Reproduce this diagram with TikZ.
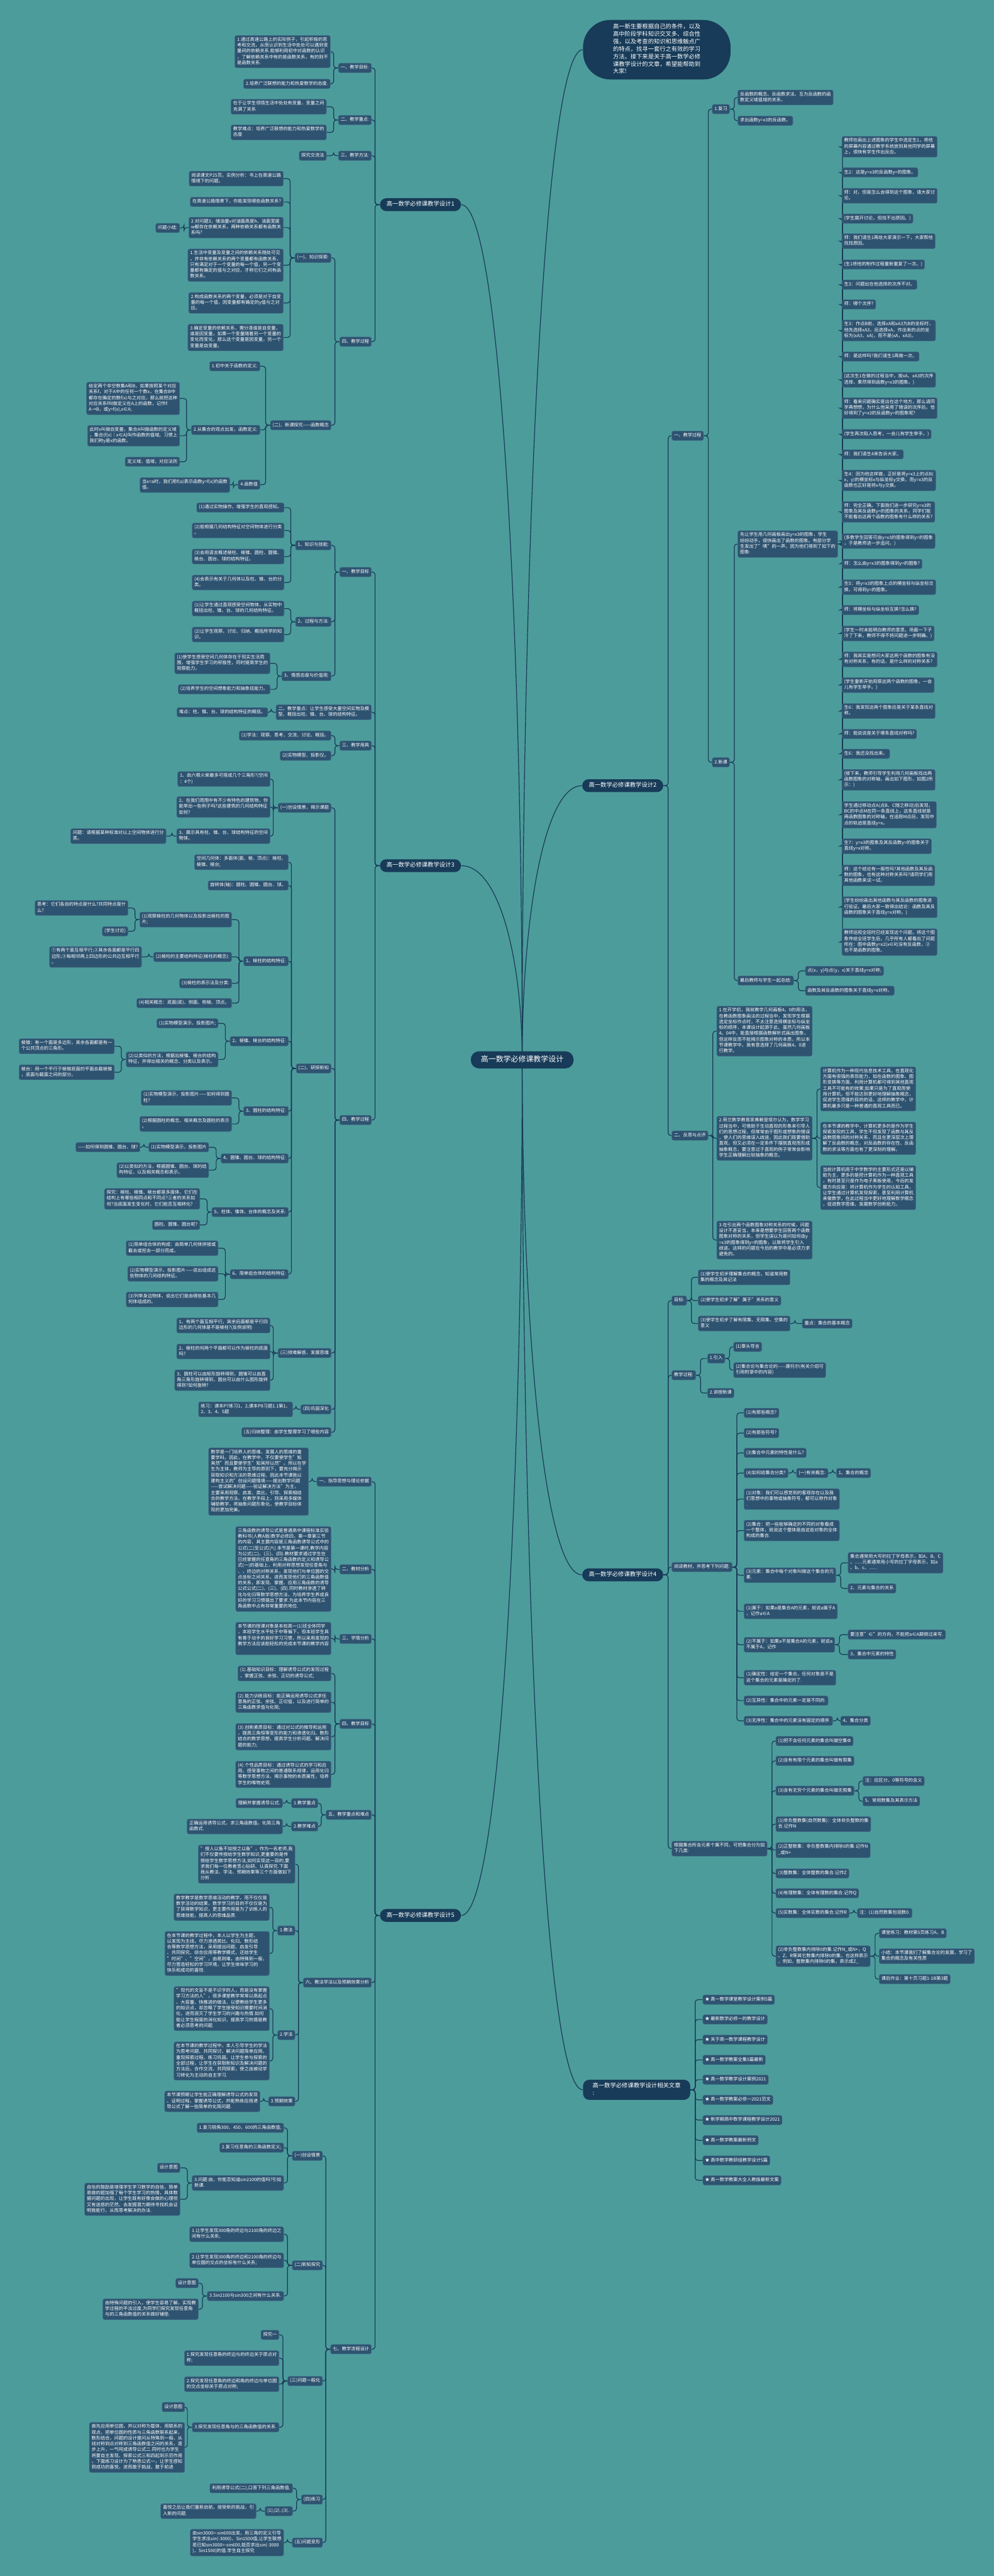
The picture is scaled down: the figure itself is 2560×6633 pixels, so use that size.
\documentclass[tikz,border=0pt]{standalone}
\usepackage{fontspec}
\setmainfont{Noto Sans CJK SC}
\usetikzlibrary{calc}
\definecolor{bgc}{HTML}{4C9C9B}
\definecolor{nodec}{HTML}{2E5370}
\definecolor{nodeedge}{HTML}{416A88}
\definecolor{mainc}{HTML}{173B58}
\definecolor{linec}{HTML}{183A56}
\pgfdeclarelayer{back}\pgfdeclarelayer{bg}\pgfsetlayers{back,bg,main}
\newcommand\fnodeX{\fontsize{3.33pt}{4.27pt}\selectfont}
\newcommand\fmainX{\fontsize{4.3pt}{5.5pt}\selectfont}
\newcommand\frootX{\fontsize{5.5pt}{7pt}\selectfont}
\newcommand\fintroX{\fontsize{4.27pt}{5.5pt}\selectfont}
\tikzset{
  nb/.style={fill=nodec, draw=nodeedge, line width=0.25pt, rounded corners=1.3pt, text=white, font=\fnodeX, align=left, inner xsep=1.6pt, inner ysep=1.3pt, execute at begin node=\strut, execute at end node=\strut},
  lb/.style={nb, anchor=east}, rb/.style={nb, anchor=west},
  mainn/.style={fill=mainc, draw=none, rounded corners=4.6pt, text=white, font=\fmainX, align=left, inner xsep=4.8pt, inner ysep=1.95pt, execute at begin node=\strut, execute at end node=\strut},
  rootn/.style={fill=mainc, draw=none, rounded corners=6pt, text=white, font=\frootX, inner xsep=7.4pt, inner ysep=2.75pt, execute at begin node=\strut, execute at end node=\strut},
  intro/.style={fill=mainc, draw=none, rounded corners=20pt, text=white, font=\fintroX, align=left, inner xsep=22pt, inner ysep=2.65pt, execute at begin node=\strut, execute at end node=\strut},
  conn/.style={draw=linec, line width=0.55pt, rounded corners=2pt}
}
\newcommand\kidsL[2]{\foreach \ch in {#2}{\draw[conn] (#1.west) -- ++(-12,0) |- (\ch.east);}}
\newcommand\kidsR[2]{\foreach \ch in {#2}{\draw[conn] (#1.east) -- ++(12,0) |- (\ch.west);}}
\newcommand\rtL[1]{\draw[conn] (root.center) .. controls ($(root.center)!0.5!(root.center|-#1.east)$) and ($(#1.east)+(100,0)$) .. (#1.east);}
\newcommand\rtR[1]{\draw[conn] (root.center) .. controls ($(root.center)!0.5!(root.center|-#1.west)$) and ($(#1.west)+(-100,0)$) .. (#1.west);}
\begin{document}
\begin{tikzpicture}[x=0.01cm,y=-0.01cm]
\begin{pgfonlayer}{back}
\fill[bgc] (0,0) rectangle (2560,6633);
\end{pgfonlayer}
\useasboundingbox (0,0) rectangle (2560,6633);

\node[rootn] (root) at (1345,2729) {高一数学必修课教学设计};

% ===== left 1 =====
\node[mainn,anchor=east] (A) at (1188,527) {高一数学必修课教学设计1};
\node[lb] (a1) at (957,175) {一、教学目标:};
\node[lb] (a11) at (851,133) {1.通过高速公路上的实际例子，引起积极的思\\考和交流，从而认识到生活中处处可以遇到变\\量间的依赖关系.能够利用初中对函数的认识\\，了解依赖关系中有的是函数关系，有的则不\\是函数关系.};
\node[lb] (a12) at (851,216) {2.培养广泛联想的能力和热爱数学的态度.};
\node[lb] (a2) at (957,309) {二、教学重点:};
\node[lb] (a21) at (841,275) {在于让学生领悟生活中处处有变量，变量之间\\充满了关系};
\node[lb] (a22) at (841,341) {教学难点：培养广泛联想的能力和热爱数学的\\态度};
\node[lb] (a3) at (957,401) {三、教学方法:};
\node[lb] (a31) at (841,401) {探究交流法};
\node[lb] (a4) at (957,880) {四、教学过程};
\node[lb] (a41) at (853,664) {(一)、知识探索:};
\node[lb] (a411) at (730,460) {阅读课文P25页。实例分析：书上在高速公路\\情境下的问题。};
\node[lb] (a412) at (730,520) {在高速公路情景下，你能发现哪些函数关系?};
\node[lb] (a413) at (730,586) {2.对问题3，储油量v对油面高度h、油面宽度\\w都存在依赖关系，两种依赖关系都有函数关\\系吗?};
\node[lb] (a4131) at (463,587) {问题小结:};
\node[lb] (a414) at (730,683) {1.生活中变量及变量之间的依赖关系随处可见\\，并非有依赖关系的两个变量都有函数关系，\\只有满足对于一个变量的每一个值，另一个变\\量都有确定的值与之对应，才称它们之间有函\\数关系。};
\node[lb] (a415) at (730,780) {2.构成函数关系的两个变量，必须是对于自变\\量的每一个值，因变量都有确定的y值与之对\\应。};
\node[lb] (a416) at (730,869) {3.确定变量的依赖关系，需分清谁是自变量，\\谁是因变量，如果一个变量随着另一个变量的\\变化而变化，那么这个变量是因变量，另一个\\变量是自变量。};
\node[lb] (a42) at (853,1095) {(二)、新课探究——函数概念};
\node[lb] (a421) at (670,943) {1.初中关于函数的定义:};
\node[lb] (a422) at (670,1107) {2.从集合的观点出发，函数定义:};
\node[lb] (a4221) at (463,1026) {给定两个非空数集A和B，如果按照某个对应\\关系f，对于A中的任何一个数x，在集合B中\\都存在确定的数f(x)与之对应，那么就把这种\\对应关系f叫做定义在A上的函数，记作f:\\A→B，或y=f(x),x∈A;};
\node[lb] (a4222) at (463,1122) {此时x叫做自变量，集合A叫做函数的定义域\\，集合\{f(x)｜x∈A\}叫作函数的值域。习惯上\\我们称y是x的函数。};
\node[lb] (a4223) at (463,1189) {定义域，值域，对应法则};
\node[lb] (a423) at (670,1248) {4.函数值};
\node[lb] (a4231) at (592,1249) {当x=a时，我们用f(a)表示函数y=f(x)的函数\\值。};

% ===== left 3 =====
\node[mainn,anchor=east] (C) at (1188,2229) {高一数学必修课教学设计3};
\node[lb] (c1) at (957,1473) {一、教学目标};
\node[lb] (c11) at (853,1404) {1、知识与技能:};
\node[lb] (c111) at (732,1307) {(1)通过实物操作，增强学生的直观感知。};
\node[lb] (c112) at (732,1366) {(2)能根据几何结构特征对空间物体进行分类\\。};
\node[lb] (c113) at (732,1433) {(3)会用语言概述棱柱、棱锥、圆柱、圆锥、\\棱台、圆台、球的结构特征。};
\node[lb] (c114) at (732,1500) {(4)会表示有关于几何体以及柱、锥、台的分\\类。};
\node[lb] (c12) at (853,1601) {2、过程与方法:};
\node[lb] (c121) at (732,1567) {(1)让学生通过直观感受空间物体，从实物中\\概括出柱、锥、台、球的几何结构特征。};
\node[lb] (c122) at (732,1634) {(2)让学生观察、讨论、归纳、概括所学的知\\识。};
\node[lb] (c13) at (853,1741) {3、情感态度与价值观:};
\node[lb] (c131) at (696,1708) {(1)使学生感受空间几何体存在于现实生活周\\围，增强学生学习的积极性，同时提高学生的\\观察能力。};
\node[lb] (c132) at (696,1775) {(2)培养学生的空间想象能力和抽象括能力。};
\node[lb] (c2) at (957,1834) {二、教学重点：让学生感受大量空间实物及模\\型、概括出柱、锥、台、球的结构特征。};
\node[lb] (c21) at (690,1834) {难点：柱、锥、台、球的结构特征的概括。};
\node[lb] (c3) at (957,1920) {三、教学用具};
\node[lb] (c31) at (853,1894) {(1)学法：观察、思考、交流、讨论、概括。};
\node[lb] (c32) at (853,1946) {(2)实物模型、投影仪。};
\node[lb] (c4) at (957,2884) {四、教学过程};
\node[lb] (c41) at (853,2080) {(一)创设情景，揭示课题};
\node[lb] (c411) at (696,2006) {1、由六根火柴最多可搭成几个三角形?(空间\\：4个)};
\node[lb] (c412) at (696,2078) {2、在我们周围中有不少有特色的建筑物，你\\能举出一些例子吗?这些建筑的几何结构特征\\如何?};
\node[lb] (c413) at (696,2153) {3、展示具有柱、锥、台、球结构特征的空间\\物体。};
\node[lb] (c4131) at (428,2153) {问题：请根据某种标准对以上空间物体进行分\\类。};
\node[lb] (c42) at (853,2751) {(二)、研探新知};
\node[lb] (c421) at (743,2220) {空间几何体：多面体(面、棱、顶点)：棱柱、\\棱锥、棱台;};
\node[lb] (c422) at (743,2280) {旋转体(轴)：圆柱、圆锥、圆台、球。};
\node[lb] (c423) at (743,2475) {1、棱柱的结构特征:};
\node[lb] (c4231) at (597,2368) {(1)观察棱柱的几何物体以及投影出棱柱的图\\片;};
\node[lb] (c42311) at (330,2338) {思考：它们各自的特点是什么?共同特点是什\\么?};
\node[lb] (c42312) at (330,2398) {(学生讨论)};
\node[lb] (c4232) at (597,2464) {(2)棱柱的主要结构特征(棱柱的概念):};
\node[lb] (c42321) at (365,2464) {①有两个面互相平行;②其余各面都是平行四\\边形;③每相邻两上四边形的公共边互相平行\\。};
\node[lb] (c4233) at (597,2532) {(3)棱柱的表示法及分类:};
\node[lb] (c4234) at (597,2583) {(4)相关概念：底面(底)、侧面、侧棱、顶点。};
\node[lb] (c424) at (743,2681) {2、棱锥、棱台的结构特征:};
\node[lb] (c4241) at (562,2635) {(1)实物模型演示，投影图片;};
\node[lb] (c4242) at (562,2728) {(2)以类似的方法，根据出棱锥、棱台的结构\\特征，并得出相关的概念、分类以及表示。};
\node[lb] (c42421) at (295,2694) {棱锥：有一个面是多边形，其余各面都是有一\\个公共顶点的三角形。};
\node[lb] (c42422) at (295,2761) {棱台：用一个平行于棱锥底面的平面去截棱锥\\，底面与截面之间的部分。};
\node[lb] (c425) at (743,2861) {3、圆柱的结构特征:};
\node[lb] (c4251) at (597,2827) {(1)实物模型演示，投影图片——如何得到圆\\柱?};
\node[lb] (c4252) at (597,2894) {(2)根据圆柱的概念、相关概念及圆柱的表示\\。};
\node[lb] (c426) at (743,2983) {4、圆锥、圆台、球的结构特征:};
\node[lb] (c4261) at (538,2954) {(1)实物模型演示，投影图片};
\node[lb] (c42611) at (361,2954) {——如何得到圆锥、圆台、球?};
\node[lb] (c4262) at (538,3013) {(2)以类似的方法，根据圆锥、圆台、球的结\\构特征，以及相关概念和表示。};
\node[lb] (c427) at (743,3121) {5、柱体、锥体、台体的概念及关系:};
\node[lb] (c4271) at (515,3087) {探究：棱柱、棱锥、棱台都是多面体，它们在\\结构上有哪些相同点和不同点?三者的关系如\\何?当底面发生变化时，它们能否互相转化?};
\node[lb] (c4272) at (515,3154) {圆柱、圆锥、圆台呢?};
\node[lb] (c428) at (743,3281) {6、简单组合体的结构特征:};
\node[lb] (c4281) at (562,3214) {(1)简单组合体的构成：由简单几何体拼接或\\截去或挖去一部分而成。};
\node[lb] (c4282) at (562,3280) {(2)实物模型演示，投影图片——说出组成这\\些物体的几何结构特征。};
\node[lb] (c4283) at (562,3346) {(3)列举身边物体，说出它们是由哪些基本几\\何体组成的。};
\node[lb] (c43) at (853,3484) {(三)排难解惑，发展思维};
\node[lb] (c431) at (696,3413) {1、有两个面互相平行，其余后面都是平行四\\边形的几何体是不是棱柱?(反例说明)};
\node[lb] (c432) at (696,3480) {2、棱柱的何两个平面都可以作为棱柱的底面\\吗?};
\node[lb] (c433) at (696,3554) {3、圆柱可以由矩形旋转得到，圆锥可以由直\\角三角形旋转得到，圆台可以由什么图形旋转\\得到?如何旋转?};
\node[lb] (c44) at (853,3629) {(四)巩固深化};
\node[lb] (c441) at (754,3629) {练习：课本P7练习1、2;课本P8习题1.1第1、\\2、3、4、5题};
\node[lb] (c45) at (853,3688) {(五)归纳整理：由学生整理学习了哪些内容};

% ===== left 5 =====
\node[mainn,anchor=east] (E) at (1188,4932) {高一数学必修课教学设计5};
\node[lb] (e1) at (957,3815) {一、指导思想与理论依据};
\node[lb] (e11) at (795,3815) {数学是一门培养人的思维，发展人的思维的重\\要学科。因此，在教学中，不仅要使学生"知\\其然"而且要使学生"知其所以然"。所以在学\\生为主体，教师为主导的原则下，要充分揭示\\获取知识和方法的思维过程。因此本节课我以\\建构主义的"创设问题情境——提出数学问题\\——尝试解决问题——验证解决方法"为主，\\主要采用观察、启发、类比、引导、探索相结\\合的教学方法。在教学手段上，则采用多媒体\\辅助教学，将抽象问题形象化，使教学目标体\\现的更加完美。};
\node[lb] (e2) at (957,4041) {二、教材分析};
\node[lb] (e21) at (853,4040) {三角函数的诱导公式是普通高中课程标准实验\\教科书(人教A版)数学必修四，第一章第三节\\的内容，其主要内容是三角函数诱导公式中的\\公式(二)至公式(六).本节是第一课时,教学内容\\为公式(二)、(三)、(四).教材要求通过学生在\\已经掌握的任意角的三角函数的定义和诱导公\\式(一)的基础上，利用对称思想发现任意角与\\、、终边的对称关系，发现他们与单位圆的交\\点坐标之间关系，进而发现他们的三角函数值\\的关系，即发现、掌握、应用三角函数的诱导\\公式公式(二)、(三)、(四).同时教材渗透了转\\化与化归等数学思想方法，为培养学生养成良\\好的学习习惯提出了要求.为此本节内容在三\\角函数中占有非常重要的地位.};
\node[lb] (e3) at (957,4220) {三、学情分析};
\node[lb] (e31) at (853,4219) {本节课的授课对象是本校高一(1)班全体同学\\，本班学生水平处于中等偏下，但本班学生具\\有善于动手的良好学习习惯，所以采用发现的\\教学方法应该能轻松的完成本节课的教学内容\\.};
\node[lb] (e4) at (957,4439) {四、教学目标};
\node[lb] (e41) at (853,4309) {(1).基础知识目标：理解诱导公式的发现过程\\，掌握正弦、余弦、正切的诱导公式;};
\node[lb] (e42) at (853,4383) {(2).能力训练目标：能正确运用诱导公式求任\\意角的正弦、余弦、正切值，以及进行简单的\\三角函数求值与化简;};
\node[lb] (e43) at (853,4472) {(3).创新素质目标：通过对公式的推导和运用\\，提高三角恒等变形的能力和渗透化归、数形\\结合的数学思想，提高学生分析问题、解决问\\题的能力;};
\node[lb] (e44) at (853,4569) {(4).个性品质目标：通过诱导公式的学习和应\\用，感受事物之间的普通联系规律，运用化归\\等数学思想方法，揭示事物的本质属性，培养\\学生的唯物史观.};
\node[lb] (e5) at (957,4673) {五、教学重点和难点};
\node[lb] (e51) at (819,4643) {1.教学重点};
\node[lb] (e511) at (728,4643) {理解并掌握诱导公式.};
\node[lb] (e52) at (819,4703) {2.教学难点};
\node[lb] (e521) at (728,4703) {正确运用诱导公式，求三角函数值，化简三角\\函数式.};
\node[lb] (e6) at (957,5105) {六、教法学法以及预期效果分析};
\node[lb] (e61) at (760,4800) {"授人以鱼不如授之以鱼"，作为一名老师,我\\们不仅要传授给学生数学知识,更重要的是传\\授给学生数学思想方法,如何实现这一目的,要\\求我们每一位教者苦心钻研、认真探究.下面\\我从教法、学法、预期效果等三个方面做如下\\分析.};
\node[lb] (e62) at (760,4971) {1.教法};
\node[lb] (e621) at (694,4911) {数学教学是数学思维活动的教学，而不仅仅是\\数学活动的结果，数学学习的目的不仅仅是为\\了获得数学知识，更主要作用是为了训练人的\\思维技能，提高人的思维品质.};
\node[lb] (e622) at (694,5030) {在本节课的教学过程中，本人以学生为主题，\\以发现为主线，尽力渗透类比、化归、数形结\\合等数学思想方法，采用提出问题、启发引导\\、共同探究、综合应用等教学模式，还给学生\\"时间"、"空间"，由易到难，由特殊到一般，\\尽力营造轻松的学习环境，让学生体味学习的\\快乐和成功的喜悦.};
\node[lb] (e63) at (760,5240) {2.学法};
\node[lb] (e631) at (694,5172) {"现代的文盲不是不识字的人，而是没有掌握\\学习方法的人"，很多课堂教学常常以高起点\\、大容量、快推进的做法，以便教给学生更多\\的知识点，却忽略了学生接受知识需要时间消\\化，进而泯灭了学生学习的兴趣与热情.如何\\能让学生程度的消化知识，提高学习热情是教\\者必须思考的问题.};
\node[lb] (e632) at (694,5307) {在本节课的教学过程中，本人引导学生的学法\\为思考问题、共同探讨、解决问题简单应用、\\重现探索过程、练习巩固。让学生参与探索的\\全部过程，让学生在获取新知识及解决问题的\\方法后，合作交流、共同探索，使之由被动学\\习转化为主动的自主学习.};
\node[lb] (e64) at (760,5411) {3.预期效果};
\node[lb] (e641) at (670,5411) {本节课预期让学生能正确理解诱导公式的发现\\、证明过程，掌握诱导公式，并能熟练应用诱\\导公式了解一些简单的化简问题.};
\node[lb] (e7) at (957,6049) {七、教学流程设计};
\node[lb] (e71) at (831,5551) {(一)创设情景};
\node[lb] (e711) at (731,5479) {1.复习锐角300，450，600的三角函数值;};
\node[lb] (e712) at (731,5530) {2.复习任意角的三角函数定义;};
\node[lb] (e713) at (731,5621) {3.问题:由，你能否知道sin2100的值吗?引如\\新课.};
\node[lb] (e7131) at (464,5582) {设计意图};
\node[lb] (e7132) at (464,5663) {自信的鼓励是增强学生学习数学的自信，简单\\易做的题加强了每个学生学习的热情，具体数\\据问题的出现，让学生既有好像会做的心理但\\又有迷惑的茫然，去发掘潜力期待寻找机会证\\明我能行，从而思考解决的办法.};
\node[lb] (e72) at (831,5833) {(二)新知探究};
\node[lb] (e721) at (731,5753) {1.让学生发现300角的终边与2100角的终边之\\间有什么关系;};
\node[lb] (e722) at (731,5820) {2.让学生发现300角的终边和2100角的终边与\\单位圆的交点的坐标有什么关系;};
\node[lb] (e723) at (731,5912) {3.Sin2100与sin300之间有什么关系.};
\node[lb] (e7231) at (511,5879) {设计意图};
\node[lb] (e7232) at (511,5946) {由特殊问题的引入，使学生容易了解，实现教\\学过程的平淡过度,为同学们探究发现任意角\\与的三角函数值的关系做好铺垫.};
\node[lb] (e73) at (831,6131) {(三)问题一般化};
\node[lb] (e731) at (719,6012) {探究一};
\node[lb] (e732) at (719,6072) {1.探究发现任意角的终边与的终边关于原点对\\称;};
\node[lb] (e733) at (719,6139) {2.探究发现任意角的终边和角的终边与单位圆\\的交点坐标关于原点对称;};
\node[lb] (e734) at (719,6250) {3.探究发现任意角与的三角函数值的关系.};
\node[lb] (e7341) at (476,6198) {设计意图};
\node[lb] (e7342) at (476,6302) {首先应用单位圆，并以对称为载体，用联系的\\观点，把单位圆的性质与三角函数联系起来，\\数形结合，问题的设计提问从特殊到一般，从\\线对称到点对称到三角函数值之间的关系，逐\\步上升，一气呵成诱导公式二.同时也为学生\\将要自主发现、探索公式三和四起到示范作用\\，下面练习设计为了熟悉公式一，让学生感知\\到成功的喜悦，进而敢于挑战，敢于前进};
\node[lb] (e74) at (831,6436) {(四)练习};
\node[lb] (e741) at (754,6407) {利用诱导公式(二),口答下列三角函数值.};
\node[lb] (e742) at (754,6466) {(1);(2).;(3)..};
\node[lb] (e7421) at (660,6466) {喜悦之后让我们重新启航，接受新的挑战，引\\入新的问题.};
\node[lb] (e75) at (831,6547) {(五)问题变形};
\node[lb] (e751) at (731,6547) {由sin3000=-sin600出发，用三角的定义引导\\学生求出sin(-3000)，Sin1500值,让学生联想\\若已知sin3000=-sin600,能否求出sin(-3000\\)，Sin1500)的值.学生自主探究};

% ===== right intro =====
\node[intro,anchor=west] (I) at (1501,128) {高一新生要根据自己的条件，以及\\高中阶段学科知识交叉多、综合性\\强，以及考查的知识和思维触点广\\的特点，找寻一套行之有效的学习\\方法。接下来是关于高一数学必修\\课教学设计的文章，希望能帮助到\\大家!};

% ===== right 2 =====
\node[mainn,anchor=west] (B) at (1499,2023) {高一数学必修课教学设计2};
\node[rb] (b1) at (1730,1122) {一、教学过程};
\node[rb] (b11) at (1834,281) {1.复习};
\node[rb] (b111) at (1900,251) {反函数的概念、反函数求法、互为反函数的函\\数定义域值域的关系。};
\node[rb] (b112) at (1900,311) {求出函数y=x3的反函数。};
\node[rb] (b12) at (1834,1963) {2.新课};
\node[rb] (b121) at (1900,1401) {先让学生用几何画板画出y=x3的图象，学生\\纷纷动手，很快画出了函数的图象。有部分学\\生发出了"咦"的一声，因为他们得到了如下的\\图象:};
\node[rb] (k1) at (2168,378) {教师在画出上述图象的学生中选定生1，将他\\的屏幕内容通过教学系统放到其他同学的屏幕\\上，很快有学生作出反应。};
\node[rb] (k2) at (2168,444) {生2：这是y=x3的反函数y=的图象。};
\node[rb] (k3) at (2168,504) {师：对，但是怎么会得到这个图象，请大家讨\\论。};
\node[rb] (k4) at (2168,563) {(学生展开讨论，但找不出原因。)};
\node[rb] (k5) at (2168,621) {师：我们请生1再给大家演示一下，大家帮他\\找找原因。};
\node[rb] (k6) at (2168,681) {(生1将他的制作过程重新重复了一次。)};
\node[rb] (k7) at (2168,733) {生3：问题出在他选择的次序不对。};
\node[rb] (k8) at (2168,784) {师：哪个次序?};
\node[rb] (k9) at (2168,851) {生3：作点B前，选择xA和xA3为B的坐标时，\\他先选择xA3，后选择xA，作出来的点的坐\\标为(xA3，xA)，而不是(xA，xA3)。};
\node[rb] (k10) at (2168,918) {师：是这样吗?我们请生1再做一次。};
\node[rb] (k11) at (2168,978) {(这次生1在做的过程当中，按xA、xA3的次序\\选择，果然得到函数y=x3的图象。)};
\node[rb] (k12) at (2168,1051) {师：看来问题确实是出在这个地方，那么请同\\学再想想，为什么他采用了错误的次序后，恰\\好得到了y=x3的反函数y=的图象呢?};
\node[rb] (k13) at (2168,1118) {(学生再次陷入思考，一会儿有学生举手。)};
\node[rb] (k14) at (2168,1170) {师：我们请生4来告诉大家。};
\node[rb] (k15) at (2168,1237) {生4：因为他这样做，正好是将y=x3上的点B(\\x，y)的横坐标x与纵坐标y交换，而y=x3的反\\函数也正好是将x与y交换。};
\node[rb] (k16) at (2168,1318) {师：完全正确。下面我们进一步研究y=x3的\\图象及其反函数y=的图象的关系，同学们能\\不能看出这两个函数的图象有什么样的关系?};
\node[rb] (k17) at (2168,1393) {(多数学生回答可由y=x3的图象得到y=的图象\\，于是教师进一步追问。)};
\node[rb] (k18) at (2168,1452) {师：怎么由y=x3的图象得到y=的图象?};
\node[rb] (k19) at (2168,1512) {生5：将y=x3的图象上点的横坐标与纵坐标交\\换，可得到y=的图象。};
\node[rb] (k20) at (2168,1571) {师：将横坐标与纵坐标互换?怎么换?};
\node[rb] (k21) at (2168,1631) {(学生一时未能明白教师的意思，场面一下子\\冷了下来，教师不得不将问题进一步明确。)};
\node[rb] (k22) at (2168,1698) {师：我其实是想问大家这两个函数的图象有没\\有对称关系，有的话，是什么样的对称关系?};
\node[rb] (k23) at (2168,1764) {(学生重新开始观察这两个函数的图象，一会\\儿有学生举手。)};
\node[rb] (k24) at (2168,1831) {生6：我发现这两个图象应是关于某条直线对\\称。};
\node[rb] (k25) at (2168,1890) {师：能说说是关于哪条直线对称吗?};
\node[rb] (k26) at (2168,1941) {生6：我还没找出来。};
\node[rb] (k27) at (2168,2008) {(接下来，教师引导学生利用几何画板找出两\\函数图象的对称轴，画出如下图形，如图2所\\示：)};
\node[rb] (k28) at (2168,2098) {学生通过移动点A(点B、C随之移动)后发现，\\BC的中点M在同一条直线上，这条直线就是\\两函数图象的对称轴，在追踪M点后，发现中\\点的轨迹是直线y=x。};
\node[rb] (k29) at (2168,2179) {生7：y=x3的图象及其反函数y=的图象关于\\直线y=x对称。};
\node[rb] (k30) at (2168,2254) {师：这个结论有一般性吗?其他函数及其反函\\数的图象，也有这种对称关系吗?请同学们用\\其他函数来试一试。};
\node[rb] (k31) at (2168,2336) {(学生纷纷画出其他函数与其反函数的图象进\\行验证，最后大家一致得出结论：函数及其反\\函数的图象关于直线y=x对称。)};
\node[rb] (k32) at (2168,2426) {教师巡视全班时已经发现这个问题，将这个图\\象传给全班学生后，几乎所有人都看出了问题\\所在：图中函数y=x2(x∈R)没有反函数，②\\也不是函数的图象。};
\node[rb] (b122) at (1900,2525) {最后教师与学生一起总结:};
\node[rb] (b1221) at (2074,2500) {点(x，y)与点(y，x)关于直线y=x对称;};
\node[rb] (b1222) at (2074,2551) {函数及其反函数的图象关于直线y=x对称。};
\node[rb] (b2) at (1730,2924) {二、反思与点评};
\node[rb] (b21) at (1846,2655) {1.在开学初，我就教学几何画板4。0的用法，\\在教函数图象画法的过程当中，发现学生根据\\选定坐标作点时，不太注意选择横坐标与纵坐\\标的顺序，本课设计起源于此。虽然几何画板\\4。04中，能直接根据函数解析式画出图象，\\但这样反而不能揭示图象对称的本质，所以本\\节课教学中，我有意选择了几何画板4。0进\\行教学。};
\node[rb] (b22) at (1846,2931) {2.荷兰数学教育家弗赖登塔尔认为，数学学习\\过程当中，可借助于生动直观的形象来引导人\\们的思想过程，但常常由于图形或想象的错误\\，使人们的思维误入歧途，因此我们既要借助\\直观，但又必须在一定条件下摆脱直观而形成\\抽象概念，要注意过于直观的例子常常会影响\\学生正确理解比较抽象的概念。};
\node[rb] (b221) at (2113,2804) {计算机作为一种现代信息技术工具，在直观化\\方面有很强的表现能力，如在函数的图象、图\\形变换等方面，利用计算机都可得到其他直观\\工具不可能有的效果;如果只是为了直观而使\\用计算机，但不能达到更好地理解抽象概念，\\促进学生思维的目的的话，这样的教学中，计\\算机最多只是一种普通的直观工具而已。};
\node[rb] (b222) at (2113,2931) {在本节课的教学中，计算机更多的是作为学生\\探索发现的工具，学生不但发现了函数与其反\\函数图象间的对称关系，而且在更深层次上理\\解了反函数的概念，对反函数的存在性、反函\\数的求法等方面也有了更深刻的理解。};
\node[rb] (b223) at (2113,3058) {当前计算机用于中学数学的主要形式还是以辅\\助为主，更多的是把计算机作为一种直观工具\\，有时甚至只是作为电子黑板使用，今后的发\\展方向应是：将计算机作为学生的认知工具，\\让学生通过计算机发现探索，甚至利用计算机\\来做数学，在此过程当中更好地理解数学概念\\，促进数学思维，发展数学创新能力。};
\node[rb] (b23) at (1846,3193) {3.在引出两个函数图象对称关系的时候，问题\\设计不甚妥当，本来是想要学生回答两个函数\\图象对称的关系，但学生误以为是问如何由y\\=x3的图象得到y=的图象，以致将学生引入\\歧途。这样的问题在今后的教学中是必须力求\\避免的。};

% ===== right 4 =====
\node[mainn,anchor=west] (D) at (1499,4055) {高一数学必修课教学设计4};
\node[rb] (d1) at (1730,3349) {目标:};
\node[rb] (d11) at (1798,3289) {(1)使学生初步理解集合的概念，知道常用数\\集的概念及其记法};
\node[rb] (d12) at (1798,3349) {(2)使学生初步了解"属于"关系的意义};
\node[rb] (d13) at (1798,3408) {(3)使学生初步了解有限集、无限集、空集的\\意义};
\node[rb] (d131) at (2066,3408) {重点：集合的基本概念};
\node[rb] (d2) at (1730,3541) {教学过程:};
\node[rb] (d21) at (1822,3498) {1.引入};
\node[rb] (d211) at (1889,3468) {(1)章头导言};
\node[rb] (d212) at (1889,3528) {(2)集合论与集合论的-{}-{}-{}-{}-康托尔(有关介绍可\\引用附录中的内容)};
\node[rb] (d22) at (1822,3587) {2.讲授新课};
\node[rb] (d3) at (1730,4035) {阅读教材，并思考下列问题:};
\node[rb] (d31) at (1916,3638) {(1)有那些概念?};
\node[rb] (d32) at (1916,3690) {(2)有那些符号?};
\node[rb] (d33) at (1916,3741) {(3)集合中元素的特性是什么?};
\node[rb] (d34) at (1916,3793) {(4)如何给集合分类?};
\node[rb] (d341) at (2051,3793) {(一)有关概念:};
\node[rb] (d3411) at (2154,3793) {1、集合的概念};
\node[rb] (d35) at (1916,3860) {(1)对象：我们可以感觉到的客观存在以及我\\们思想中的事物或抽象符号，都可以称作对象\\.};
\node[rb] (d36) at (1916,3941) {(2)集合：把一些能够确定的不同的对象看成\\一个整体，就说这个整体是由这些对象的全体\\构成的集合.};
\node[rb] (d37) at (1916,4056) {(3)元素：集合中每个对象叫做这个集合的元\\素.};
\node[rb] (d371) at (2184,4024) {集合通常用大写的拉丁字母表示，如A、B、C\\、......元素通常用小写的拉丁字母表示，如a\\、b、c、......};
\node[rb] (d372) at (2184,4090) {2、元素与集合的关系};
\node[rb] (d38) at (1916,4149) {(1)属于：如果a是集合A的元素，就说a属于A\\，记作a∈A};
\node[rb] (d39) at (1916,4235) {(2)不属于：如果a不是集合A的元素，就说a\\不属于A，记作};
\node[rb] (d391) at (2184,4209) {要注意"∈"的方向，不能把a∈A颠倒过来写.};
\node[rb] (d392) at (2184,4260) {3、集合中元素的特性};
\node[rb] (d3a) at (1916,4320) {(1)确定性：给定一个集合，任何对象是不是\\这个集合的元素是确定的了.};
\node[rb] (d3b) at (1916,4379) {(2)互异性：集合中的元素一定是不同的.};
\node[rb] (d3c) at (1916,4431) {(3)无序性：集合中的元素没有固定的顺序.};
\node[rb] (d3c1) at (2165,4431) {4、集合分类};
\node[rb] (d4) at (1730,4760) {根据集合所含元素个属不同，可把集合分为如\\下几类:};
\node[rb] (d41) at (1998,4483) {(1)把不含任何元素的集合叫做空集Φ};
\node[rb] (d42) at (1998,4534) {(2)含有有限个元素的集合叫做有限集};
\node[rb] (d43) at (1998,4611) {(3)含有无穷个元素的集合叫做无限集};
\node[rb] (d431) at (2222,4586) {注：应区分，0等符号的含义};
\node[rb] (d432) at (2222,4638) {5、常用数集及其表示方法};
\node[rb] (d44) at (1998,4697) {(1)非负整数集(自然数集)：全体非负整数的集\\合.记作N};
\node[rb] (d45) at (1998,4764) {(2)正整数集：非负整数集内排除0的集.记作N\\\_或N+};
\node[rb] (d46) at (1998,4824) {(3)整数集：全体整数的集合.记作Z};
\node[rb] (d47) at (1998,4875) {(4)有理数集：全体有理数的集合.记作Q};
\node[rb] (d48) at (1998,4926) {(5)实数集：全体实数的集合.记作R};
\node[rb] (d481) at (2208,4926) {注：(1)自然数集包括数0.};
\node[rb] (d49) at (1998,5037) {(2)非负整数集内排除0的集.记作N\_或N+，Q\\、Z、R等其它数集内排除0的集，也这样表示\\，例如，整数集内排除0的集，表示成Z\_};
\node[rb] (d491) at (2264,4978) {课堂练习：教材第5页练习A、B};
\node[rb] (d492) at (2264,5037) {小结：本节课我们了解集合论的发展，学习了\\集合的概念及有关性质};
\node[rb] (d493) at (2264,5096) {课后作业：第十页习题1-1B第3题};

% ===== right related =====
\node[mainn,anchor=west,inner xsep=7pt] (F) at (1501,5381) {高一数学必修课教学设计相关文章\\:};
\node[rb] (f1) at (1810,5149) {★ 高一数学课堂教学设计案例5篇};
\node[rb] (f2) at (1810,5200) {★ 最新数学必修一的教学设计};
\node[rb] (f3) at (1810,5252) {★ 关于高一数学课程教学设计};
\node[rb] (f4) at (1810,5304) {★ 高一数学教案全集5篇最新};
\node[rb] (f5) at (1810,5355) {★ 高一数学教学设计案例2021};
\node[rb] (f6) at (1810,5407) {★ 高一数学教案必修一2021范文};
\node[rb] (f7) at (1810,5459) {★ 新学期高中数学课程教学设计2021};
\node[rb] (f8) at (1810,5511) {★ 高一数学教案最新例文};
\node[rb] (f9) at (1810,5563) {★ 高中数学教研组教学设计5篇};
\node[rb] (f10) at (1810,5614) {★ 高一数学教案大全人教版最新文案};

\begin{pgfonlayer}{bg}
\rtL{A}\rtL{C}\rtL{E}\rtR{I}\rtR{B}\rtR{D}\rtR{F}
\kidsL{A}{a1,a2,a3,a4}
\kidsL{a1}{a11,a12}
\kidsL{a2}{a21,a22}
\kidsL{a3}{a31}
\kidsL{a4}{a41,a42}
\kidsL{a41}{a411,a412,a413,a414,a415,a416}
\kidsL{a413}{a4131}
\kidsL{a42}{a421,a422,a423}
\kidsL{a422}{a4221,a4222,a4223}
\kidsL{a423}{a4231}
\kidsL{C}{c1,c2,c3,c4}
\kidsL{c1}{c11,c12,c13}
\kidsL{c11}{c111,c112,c113,c114}
\kidsL{c12}{c121,c122}
\kidsL{c13}{c131,c132}
\kidsL{c2}{c21}
\kidsL{c3}{c31,c32}
\kidsL{c4}{c41,c42,c43,c44,c45}
\kidsL{c41}{c411,c412,c413}
\kidsL{c413}{c4131}
\kidsL{c42}{c421,c422,c423,c424,c425,c426,c427,c428}
\kidsL{c423}{c4231,c4232,c4233,c4234}
\kidsL{c4231}{c42311,c42312}
\kidsL{c4232}{c42321}
\kidsL{c424}{c4241,c4242}
\kidsL{c4242}{c42421,c42422}
\kidsL{c425}{c4251,c4252}
\kidsL{c426}{c4261,c4262}
\kidsL{c4261}{c42611}
\kidsL{c427}{c4271,c4272}
\kidsL{c428}{c4281,c4282,c4283}
\kidsL{c43}{c431,c432,c433}
\kidsL{c44}{c441}
\kidsL{E}{e1,e2,e3,e4,e5,e6,e7}
\kidsL{e1}{e11}
\kidsL{e2}{e21}
\kidsL{e3}{e31}
\kidsL{e4}{e41,e42,e43,e44}
\kidsL{e5}{e51,e52}
\kidsL{e51}{e511}
\kidsL{e52}{e521}
\kidsL{e6}{e61,e62,e63,e64}
\kidsL{e62}{e621,e622}
\kidsL{e63}{e631,e632}
\kidsL{e64}{e641}
\kidsL{e7}{e71,e72,e73,e74,e75}
\kidsL{e71}{e711,e712,e713}
\kidsL{e713}{e7131,e7132}
\kidsL{e72}{e721,e722,e723}
\kidsL{e723}{e7231,e7232}
\kidsL{e73}{e731,e732,e733,e734}
\kidsL{e734}{e7341,e7342}
\kidsL{e74}{e741,e742}
\kidsL{e742}{e7421}
\kidsL{e75}{e751}
\kidsR{B}{b1,b2}
\kidsR{b1}{b11,b12}
\kidsR{b11}{b111,b112}
\kidsR{b12}{b121,b122}
\kidsR{b121}{k1,k2,k3,k4,k5,k6,k7,k8,k9,k10,k11,k12,k13,k14,k15,k16,k17,k18,k19,k20,k21,k22,k23,k24,k25,k26,k27,k28,k29,k30,k31,k32}
\kidsR{b122}{b1221,b1222}
\kidsR{b2}{b21,b22,b23}
\kidsR{b22}{b221,b222,b223}
\kidsR{D}{d1,d2,d3,d4}
\kidsR{d1}{d11,d12,d13}
\kidsR{d13}{d131}
\kidsR{d2}{d21,d22}
\kidsR{d21}{d211,d212}
\kidsR{d3}{d31,d32,d33,d34,d35,d36,d37,d38,d39,d3a,d3b,d3c}
\kidsR{d34}{d341}
\kidsR{d341}{d3411}
\kidsR{d37}{d371,d372}
\kidsR{d39}{d391,d392}
\kidsR{d3c}{d3c1}
\kidsR{d4}{d41,d42,d43,d44,d45,d46,d47,d48,d49}
\kidsR{d43}{d431,d432}
\kidsR{d48}{d481}
\kidsR{d49}{d491,d492,d493}
\kidsR{F}{f1,f2,f3,f4,f5,f6,f7,f8,f9,f10}
\end{pgfonlayer}
\end{tikzpicture}
\end{document}
